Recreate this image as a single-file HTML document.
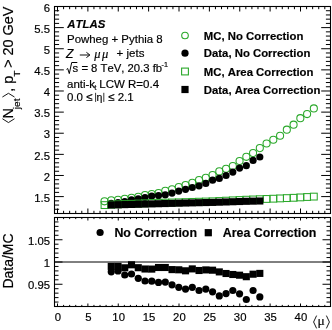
<!DOCTYPE html>
<html><head><meta charset="utf-8"><title>ATLAS Njet vs mu</title>
<style>
html,body{margin:0;padding:0;background:#fff;width:332px;height:330px;overflow:hidden;}
svg{display:block;}
  text{filter:grayscale(1);}
text{font-family:"Liberation Sans",sans-serif;fill:#000;font-kerning:none;stroke:#000;stroke-width:0.18px;}
.serif{font-family:"Liberation Serif",serif;}
</style></head><body>
<svg width="332" height="330" viewBox="0 0 332 330">
<rect x="0" y="0" width="332" height="330" fill="#fff"/>
<path d="M57.50 213.50v-5.0M57.50 6.50v5.0M63.58 213.50v-2.7M63.58 6.50v2.7M69.65 213.50v-2.7M69.65 6.50v2.7M75.72 213.50v-2.7M75.72 6.50v2.7M81.80 213.50v-2.7M81.80 6.50v2.7M87.88 213.50v-5.0M87.88 6.50v5.0M93.95 213.50v-2.7M93.95 6.50v2.7M100.03 213.50v-2.7M100.03 6.50v2.7M106.10 213.50v-2.7M106.10 6.50v2.7M112.18 213.50v-2.7M112.18 6.50v2.7M118.25 213.50v-5.0M118.25 6.50v5.0M124.33 213.50v-2.7M124.33 6.50v2.7M130.40 213.50v-2.7M130.40 6.50v2.7M136.48 213.50v-2.7M136.48 6.50v2.7M142.55 213.50v-2.7M142.55 6.50v2.7M148.62 213.50v-5.0M148.62 6.50v5.0M154.70 213.50v-2.7M154.70 6.50v2.7M160.78 213.50v-2.7M160.78 6.50v2.7M166.85 213.50v-2.7M166.85 6.50v2.7M172.93 213.50v-2.7M172.93 6.50v2.7M179.00 213.50v-5.0M179.00 6.50v5.0M185.07 213.50v-2.7M185.07 6.50v2.7M191.15 213.50v-2.7M191.15 6.50v2.7M197.22 213.50v-2.7M197.22 6.50v2.7M203.30 213.50v-2.7M203.30 6.50v2.7M209.38 213.50v-5.0M209.38 6.50v5.0M215.45 213.50v-2.7M215.45 6.50v2.7M221.53 213.50v-2.7M221.53 6.50v2.7M227.60 213.50v-2.7M227.60 6.50v2.7M233.68 213.50v-2.7M233.68 6.50v2.7M239.75 213.50v-5.0M239.75 6.50v5.0M245.83 213.50v-2.7M245.83 6.50v2.7M251.90 213.50v-2.7M251.90 6.50v2.7M257.98 213.50v-2.7M257.98 6.50v2.7M264.05 213.50v-2.7M264.05 6.50v2.7M270.12 213.50v-5.0M270.12 6.50v5.0M276.20 213.50v-2.7M276.20 6.50v2.7M282.27 213.50v-2.7M282.27 6.50v2.7M288.35 213.50v-2.7M288.35 6.50v2.7M294.43 213.50v-2.7M294.43 6.50v2.7M300.50 213.50v-5.0M300.50 6.50v5.0M306.58 213.50v-2.7M306.58 6.50v2.7M312.65 213.50v-2.7M312.65 6.50v2.7M318.73 213.50v-2.7M318.73 6.50v2.7M324.80 213.50v-2.7M324.80 6.50v2.7M54.50 196.60h9.3M330.50 196.60h-9.3M54.50 175.48h9.3M330.50 175.48h-9.3M54.50 154.36h9.3M330.50 154.36h-9.3M54.50 133.23h9.3M330.50 133.23h-9.3M54.50 112.11h9.3M330.50 112.11h-9.3M54.50 90.99h9.3M330.50 90.99h-9.3M54.50 69.87h9.3M330.50 69.87h-9.3M54.50 48.74h9.3M330.50 48.74h-9.3M54.50 27.62h9.3M330.50 27.62h-9.3M54.50 6.50h9.3M330.50 6.50h-9.3M54.50 213.50h4.6M330.50 213.50h-4.6M54.50 209.28h4.6M330.50 209.28h-4.6M54.50 205.05h4.6M330.50 205.05h-4.6M54.50 200.83h4.6M330.50 200.83h-4.6M54.50 192.38h4.6M330.50 192.38h-4.6M54.50 188.15h4.6M330.50 188.15h-4.6M54.50 183.93h4.6M330.50 183.93h-4.6M54.50 179.70h4.6M330.50 179.70h-4.6M54.50 171.26h4.6M330.50 171.26h-4.6M54.50 167.03h4.6M330.50 167.03h-4.6M54.50 162.81h4.6M330.50 162.81h-4.6M54.50 158.58h4.6M330.50 158.58h-4.6M54.50 150.13h4.6M330.50 150.13h-4.6M54.50 145.91h4.6M330.50 145.91h-4.6M54.50 141.68h4.6M330.50 141.68h-4.6M54.50 137.46h4.6M330.50 137.46h-4.6M54.50 129.01h4.6M330.50 129.01h-4.6M54.50 124.79h4.6M330.50 124.79h-4.6M54.50 120.56h4.6M330.50 120.56h-4.6M54.50 116.34h4.6M330.50 116.34h-4.6M54.50 107.89h4.6M330.50 107.89h-4.6M54.50 103.66h4.6M330.50 103.66h-4.6M54.50 99.44h4.6M330.50 99.44h-4.6M54.50 95.21h4.6M330.50 95.21h-4.6M54.50 86.77h4.6M330.50 86.77h-4.6M54.50 82.54h4.6M330.50 82.54h-4.6M54.50 78.32h4.6M330.50 78.32h-4.6M54.50 74.09h4.6M330.50 74.09h-4.6M54.50 65.64h4.6M330.50 65.64h-4.6M54.50 61.42h4.6M330.50 61.42h-4.6M54.50 57.19h4.6M330.50 57.19h-4.6M54.50 52.97h4.6M330.50 52.97h-4.6M54.50 44.52h4.6M330.50 44.52h-4.6M54.50 40.30h4.6M330.50 40.30h-4.6M54.50 36.07h4.6M330.50 36.07h-4.6M54.50 31.85h4.6M330.50 31.85h-4.6M54.50 23.40h4.6M330.50 23.40h-4.6M54.50 19.17h4.6M330.50 19.17h-4.6M54.50 14.95h4.6M330.50 14.95h-4.6M54.50 10.72h4.6M330.50 10.72h-4.6" stroke="#000" stroke-width="1" fill="none"/>
<path d="M57.50 306.50v-3.0M57.50 217.50v3.0M63.58 306.50v-1.6M63.58 217.50v1.6M69.65 306.50v-1.6M69.65 217.50v1.6M75.72 306.50v-1.6M75.72 217.50v1.6M81.80 306.50v-1.6M81.80 217.50v1.6M87.88 306.50v-3.0M87.88 217.50v3.0M93.95 306.50v-1.6M93.95 217.50v1.6M100.03 306.50v-1.6M100.03 217.50v1.6M106.10 306.50v-1.6M106.10 217.50v1.6M112.18 306.50v-1.6M112.18 217.50v1.6M118.25 306.50v-3.0M118.25 217.50v3.0M124.33 306.50v-1.6M124.33 217.50v1.6M130.40 306.50v-1.6M130.40 217.50v1.6M136.48 306.50v-1.6M136.48 217.50v1.6M142.55 306.50v-1.6M142.55 217.50v1.6M148.62 306.50v-3.0M148.62 217.50v3.0M154.70 306.50v-1.6M154.70 217.50v1.6M160.78 306.50v-1.6M160.78 217.50v1.6M166.85 306.50v-1.6M166.85 217.50v1.6M172.93 306.50v-1.6M172.93 217.50v1.6M179.00 306.50v-3.0M179.00 217.50v3.0M185.07 306.50v-1.6M185.07 217.50v1.6M191.15 306.50v-1.6M191.15 217.50v1.6M197.22 306.50v-1.6M197.22 217.50v1.6M203.30 306.50v-1.6M203.30 217.50v1.6M209.38 306.50v-3.0M209.38 217.50v3.0M215.45 306.50v-1.6M215.45 217.50v1.6M221.53 306.50v-1.6M221.53 217.50v1.6M227.60 306.50v-1.6M227.60 217.50v1.6M233.68 306.50v-1.6M233.68 217.50v1.6M239.75 306.50v-3.0M239.75 217.50v3.0M245.83 306.50v-1.6M245.83 217.50v1.6M251.90 306.50v-1.6M251.90 217.50v1.6M257.98 306.50v-1.6M257.98 217.50v1.6M264.05 306.50v-1.6M264.05 217.50v1.6M270.12 306.50v-3.0M270.12 217.50v3.0M276.20 306.50v-1.6M276.20 217.50v1.6M282.27 306.50v-1.6M282.27 217.50v1.6M288.35 306.50v-1.6M288.35 217.50v1.6M294.43 306.50v-1.6M294.43 217.50v1.6M300.50 306.50v-3.0M300.50 217.50v3.0M306.58 306.50v-1.6M306.58 217.50v1.6M312.65 306.50v-1.6M312.65 217.50v1.6M318.73 306.50v-1.6M318.73 217.50v1.6M324.80 306.50v-1.6M324.80 217.50v1.6M54.50 284.25h8.0M330.50 284.25h-8.0M54.50 262.00h8.0M330.50 262.00h-8.0M54.50 239.75h8.0M330.50 239.75h-8.0M54.50 302.05h4.0M330.50 302.05h-4.0M54.50 297.60h4.0M330.50 297.60h-4.0M54.50 293.15h4.0M330.50 293.15h-4.0M54.50 288.70h4.0M330.50 288.70h-4.0M54.50 279.80h4.0M330.50 279.80h-4.0M54.50 275.35h4.0M330.50 275.35h-4.0M54.50 270.90h4.0M330.50 270.90h-4.0M54.50 266.45h4.0M330.50 266.45h-4.0M54.50 257.55h4.0M330.50 257.55h-4.0M54.50 253.10h4.0M330.50 253.10h-4.0M54.50 248.65h4.0M330.50 248.65h-4.0M54.50 244.20h4.0M330.50 244.20h-4.0M54.50 235.30h4.0M330.50 235.30h-4.0M54.50 230.85h4.0M330.50 230.85h-4.0M54.50 226.40h4.0M330.50 226.40h-4.0M54.50 221.95h4.0M330.50 221.95h-4.0" stroke="#000" stroke-width="1" fill="none"/>
<rect x="54.5" y="6.5" width="276.0" height="207.0" fill="none" stroke="#000" stroke-width="1.1"/>
<rect x="54.5" y="217.5" width="276.0" height="89.0" fill="none" stroke="#000" stroke-width="1.1"/>
<line x1="54.50" y1="262.00" x2="330.50" y2="262.00" stroke="#000" stroke-width="1.0"/>
<text x="50.0" y="201.80" font-size="11.3" text-anchor="end">1.5</text>
<text x="50.0" y="180.68" font-size="11.3" text-anchor="end">2</text>
<text x="50.0" y="159.56" font-size="11.3" text-anchor="end">2.5</text>
<text x="50.0" y="138.43" font-size="11.3" text-anchor="end">3</text>
<text x="50.0" y="117.31" font-size="11.3" text-anchor="end">3.5</text>
<text x="50.0" y="96.19" font-size="11.3" text-anchor="end">4</text>
<text x="50.0" y="75.07" font-size="11.3" text-anchor="end">4.5</text>
<text x="50.0" y="53.94" font-size="11.3" text-anchor="end">5</text>
<text x="50.0" y="32.82" font-size="11.3" text-anchor="end">5.5</text>
<text x="50.0" y="11.70" font-size="11.3" text-anchor="end">6</text>
<text x="50.0" y="244.95" font-size="11.3" text-anchor="end">1.05</text>
<text x="50.0" y="267.20" font-size="11.3" text-anchor="end">1</text>
<text x="50.0" y="289.45" font-size="11.3" text-anchor="end">0.95</text>
<text x="57.90" y="320.9" font-size="11.3" text-anchor="middle">0</text>
<text x="88.28" y="320.9" font-size="11.3" text-anchor="middle">5</text>
<text x="118.65" y="320.9" font-size="11.3" text-anchor="middle">10</text>
<text x="149.03" y="320.9" font-size="11.3" text-anchor="middle">15</text>
<text x="179.40" y="320.9" font-size="11.3" text-anchor="middle">20</text>
<text x="209.78" y="320.9" font-size="11.3" text-anchor="middle">25</text>
<text x="240.15" y="320.9" font-size="11.3" text-anchor="middle">30</text>
<text x="270.52" y="320.9" font-size="11.3" text-anchor="middle">35</text>
<text x="300.90" y="320.9" font-size="11.3" text-anchor="middle">40</text>
<g stroke="#000" stroke-width="0.9" fill="none"><polyline points="316.6,315.6 313.6,322 316.6,328.4"/><polyline points="326.4,315.6 329.4,322 326.4,328.4"/></g>
<text class="serif" x="317.4" y="325.3" font-size="13.5">μ</text>
<g transform="translate(12.9,124.2) rotate(-90) scale(1.03,1)"><g stroke="#000" stroke-width="0.9" fill="none"><polyline points="5.3,-10.5 1.6,-4.45 5.3,1.6"/></g><text x="5.6" y="0" font-size="14.0">N</text><text x="14.6" y="7.0" font-size="9.8">jet</text><g stroke="#000" stroke-width="0.9" fill="none"><polyline points="26.4,-10.5 30.0,-4.45 26.4,1.6"/></g><text x="31.4" y="0" font-size="14.0">, p</text><text x="46.0" y="7.0" font-size="9.8">T</text><text x="54.7" y="0" font-size="14.0">&gt; 20 GeV</text></g>
<text transform="translate(13.2,288.6) rotate(-90)" x="0" y="0" font-size="14">Data/MC</text>
<text x="67.3" y="27.6" font-size="11.4" font-weight="bold" font-style="italic">ATLAS</text>
<text x="67" y="42.8" font-size="11.45">Powheg + Pythia 8</text>
<text x="66.0" y="57.8" font-size="12.2" font-style="italic">Z</text>
<path d="M79.8 55.0 H89.4 M86.4 52.3 L89.9 55.0 L86.4 57.6" stroke="#000" stroke-width="0.95" fill="none"/>
<text class="serif" x="94.3" y="57.6" font-size="12.5" font-style="italic">μ</text>
<text class="serif" x="101.9" y="57.6" font-size="12.5" font-style="italic">μ</text>
<text x="116.6" y="57" font-size="11.5">+ jets</text>
<path d="M66.5 69.4 L67.7 68.5 L69.3 73.6 L71.7 62.5 H77.3" stroke="#000" stroke-width="1.0" fill="none"/>
<text x="72.6" y="72.2" font-size="11.3">s = 8 TeV, 20.3 fb</text>
<text x="161.6" y="67.0" font-size="7.2">-1</text>
<text x="67" y="88" font-size="11.5">anti-k</text>
<text x="94.2" y="89.8" font-size="8">t</text>
<text x="99.3" y="88" font-size="11.5">LCW R=0.4</text>
<text x="67" y="101.4" font-size="11.5">0.0 ≤</text>
<path d="M95.6 92.8 V101.9 M103.8 92.8 V101.9" stroke="#000" stroke-width="0.8"/>
<text x="96.4" y="101.4" font-size="10.5">η</text>
<text x="108.2" y="101.4" font-size="11.5">≤ 2.1</text>
<circle cx="185.0" cy="35.5" r="3.3" fill="none" stroke="#2aa82a" stroke-width="1.1"/>
<circle cx="185.0" cy="53.2" r="3.6" fill="#000"/>
<rect x="181.60" y="68.10" width="6.8" height="6.8" fill="none" stroke="#2aa82a" stroke-width="1.1"/>
<rect x="181.40" y="85.90" width="7.2" height="7.2" fill="#000"/>
<text x="203.8" y="39.60" font-size="11.35" font-weight="bold">MC, No Correction</text>
<text x="203.8" y="57.30" font-size="11.35" font-weight="bold">Data, No Correction</text>
<text x="203.8" y="75.60" font-size="11.35" font-weight="bold">MC, Area Correction</text>
<text x="203.8" y="93.60" font-size="11.35" font-weight="bold">Data, Area Correction</text>
<circle cx="100.1" cy="232.5" r="3.6" fill="#000"/>
<text x="114.4" y="236.9" font-size="12.4" font-weight="bold">No Correction</text>
<rect x="204.7" y="229.1" width="7.2" height="7.2" fill="#000"/>
<text x="222.8" y="236.9" font-size="12.4" font-weight="bold">Area Correction</text>
<g fill="none" stroke="#2aa82a" stroke-width="1.05"><circle cx="104.50" cy="201.30" r="3.55"/><circle cx="111.25" cy="200.40" r="3.55"/><circle cx="118.01" cy="199.80" r="3.55"/><circle cx="124.76" cy="198.80" r="3.55"/><circle cx="131.51" cy="197.80" r="3.55"/><circle cx="138.26" cy="196.90" r="3.55"/><circle cx="145.02" cy="195.10" r="3.55"/><circle cx="151.77" cy="194.00" r="3.55"/><circle cx="158.52" cy="193.10" r="3.55"/><circle cx="165.28" cy="190.80" r="3.55"/><circle cx="172.03" cy="189.20" r="3.55"/><circle cx="178.78" cy="187.10" r="3.55"/><circle cx="185.54" cy="185.10" r="3.55"/><circle cx="192.29" cy="182.80" r="3.55"/><circle cx="199.04" cy="180.10" r="3.55"/><circle cx="205.80" cy="177.70" r="3.55"/><circle cx="212.55" cy="175.10" r="3.55"/><circle cx="219.30" cy="171.40" r="3.55"/><circle cx="226.05" cy="168.70" r="3.55"/><circle cx="232.81" cy="166.00" r="3.55"/><circle cx="239.56" cy="161.00" r="3.55"/><circle cx="246.31" cy="156.80" r="3.55"/><circle cx="253.07" cy="153.10" r="3.55"/><circle cx="259.82" cy="148.10" r="3.55"/><circle cx="266.57" cy="143.50" r="3.55"/><circle cx="273.32" cy="139.70" r="3.55"/><circle cx="280.08" cy="135.70" r="3.55"/><circle cx="286.83" cy="129.70" r="3.55"/><circle cx="293.58" cy="124.70" r="3.55"/><circle cx="300.34" cy="118.20" r="3.55"/><circle cx="307.09" cy="114.10" r="3.55"/><circle cx="313.84" cy="108.40" r="3.55"/></g>
<g fill="#000"><circle cx="111.25" cy="203.30" r="3.6"/><circle cx="118.01" cy="202.50" r="3.6"/><circle cx="124.76" cy="201.50" r="3.6"/><circle cx="131.51" cy="199.80" r="3.6"/><circle cx="138.26" cy="198.90" r="3.6"/><circle cx="145.02" cy="197.50" r="3.6"/><circle cx="151.77" cy="196.10" r="3.6"/><circle cx="158.52" cy="195.60" r="3.6"/><circle cx="165.28" cy="194.80" r="3.6"/><circle cx="172.03" cy="193.10" r="3.6"/><circle cx="178.78" cy="191.10" r="3.6"/><circle cx="185.54" cy="189.30" r="3.6"/><circle cx="192.29" cy="187.50" r="3.6"/><circle cx="199.04" cy="185.80" r="3.6"/><circle cx="205.80" cy="183.40" r="3.6"/><circle cx="212.55" cy="180.20" r="3.6"/><circle cx="219.30" cy="178.40" r="3.6"/><circle cx="226.05" cy="175.50" r="3.6"/><circle cx="232.81" cy="172.10" r="3.6"/><circle cx="239.56" cy="168.10" r="3.6"/><circle cx="246.31" cy="165.70" r="3.6"/><circle cx="253.07" cy="160.40" r="3.6"/><circle cx="259.82" cy="157.00" r="3.6"/></g>
<g fill="none" stroke="#2aa82a" stroke-width="1.05"><rect x="101.10" y="201.70" width="6.8" height="6.8"/><rect x="107.85" y="201.20" width="6.8" height="6.8"/><rect x="114.61" y="200.94" width="6.8" height="6.8"/><rect x="121.36" y="200.68" width="6.8" height="6.8"/><rect x="128.11" y="200.42" width="6.8" height="6.8"/><rect x="134.86" y="200.15" width="6.8" height="6.8"/><rect x="141.62" y="199.89" width="6.8" height="6.8"/><rect x="148.37" y="199.63" width="6.8" height="6.8"/><rect x="155.12" y="199.41" width="6.8" height="6.8"/><rect x="161.88" y="199.24" width="6.8" height="6.8"/><rect x="168.63" y="199.06" width="6.8" height="6.8"/><rect x="175.38" y="198.89" width="6.8" height="6.8"/><rect x="182.14" y="198.70" width="6.8" height="6.8"/><rect x="188.89" y="198.50" width="6.8" height="6.8"/><rect x="195.64" y="198.30" width="6.8" height="6.8"/><rect x="202.40" y="198.10" width="6.8" height="6.8"/><rect x="209.15" y="197.90" width="6.8" height="6.8"/><rect x="215.90" y="197.58" width="6.8" height="6.8"/><rect x="222.65" y="197.26" width="6.8" height="6.8"/><rect x="229.41" y="196.94" width="6.8" height="6.8"/><rect x="236.16" y="196.62" width="6.8" height="6.8"/><rect x="242.91" y="196.30" width="6.8" height="6.8"/><rect x="249.67" y="196.05" width="6.8" height="6.8"/><rect x="256.42" y="195.80" width="6.8" height="6.8"/><rect x="263.17" y="195.55" width="6.8" height="6.8"/><rect x="269.93" y="195.30" width="6.8" height="6.8"/><rect x="276.68" y="195.00" width="6.8" height="6.8"/><rect x="283.43" y="194.70" width="6.8" height="6.8"/><rect x="290.18" y="194.40" width="6.8" height="6.8"/><rect x="296.94" y="194.00" width="6.8" height="6.8"/><rect x="303.69" y="193.60" width="6.8" height="6.8"/><rect x="310.44" y="193.20" width="6.8" height="6.8"/></g>
<g fill="#000"><rect x="107.70" y="201.45" width="7.1" height="7.1"/><rect x="114.46" y="201.27" width="7.1" height="7.1"/><rect x="121.21" y="201.08" width="7.1" height="7.1"/><rect x="127.96" y="200.90" width="7.1" height="7.1"/><rect x="134.71" y="200.71" width="7.1" height="7.1"/><rect x="141.47" y="200.53" width="7.1" height="7.1"/><rect x="148.22" y="200.34" width="7.1" height="7.1"/><rect x="154.97" y="200.16" width="7.1" height="7.1"/><rect x="161.73" y="199.99" width="7.1" height="7.1"/><rect x="168.48" y="199.81" width="7.1" height="7.1"/><rect x="175.23" y="199.64" width="7.1" height="7.1"/><rect x="181.99" y="199.47" width="7.1" height="7.1"/><rect x="188.74" y="199.32" width="7.1" height="7.1"/><rect x="195.49" y="199.16" width="7.1" height="7.1"/><rect x="202.25" y="199.01" width="7.1" height="7.1"/><rect x="209.00" y="198.85" width="7.1" height="7.1"/><rect x="215.75" y="198.63" width="7.1" height="7.1"/><rect x="222.50" y="198.41" width="7.1" height="7.1"/><rect x="229.26" y="198.19" width="7.1" height="7.1"/><rect x="236.01" y="197.97" width="7.1" height="7.1"/><rect x="242.76" y="197.75" width="7.1" height="7.1"/><rect x="249.52" y="197.60" width="7.1" height="7.1"/><rect x="256.27" y="197.45" width="7.1" height="7.1"/></g>
<g fill="#000"><circle cx="111.25" cy="271.80" r="3.6"/><circle cx="118.01" cy="270.90" r="3.6"/><circle cx="124.76" cy="275.00" r="3.6"/><circle cx="131.51" cy="274.00" r="3.6"/><circle cx="138.26" cy="278.30" r="3.6"/><circle cx="145.02" cy="281.00" r="3.6"/><circle cx="151.77" cy="281.20" r="3.6"/><circle cx="158.52" cy="282.40" r="3.6"/><circle cx="165.28" cy="282.10" r="3.6"/><circle cx="172.03" cy="284.80" r="3.6"/><circle cx="178.78" cy="287.30" r="3.6"/><circle cx="185.54" cy="289.10" r="3.6"/><circle cx="192.29" cy="287.30" r="3.6"/><circle cx="199.04" cy="290.50" r="3.6"/><circle cx="205.80" cy="289.10" r="3.6"/><circle cx="212.55" cy="291.80" r="3.6"/><circle cx="219.30" cy="295.90" r="3.6"/><circle cx="226.05" cy="293.60" r="3.6"/><circle cx="232.81" cy="290.50" r="3.6"/><circle cx="239.56" cy="293.80" r="3.6"/><circle cx="246.31" cy="299.50" r="3.6"/><circle cx="253.07" cy="290.50" r="3.6"/><circle cx="259.82" cy="296.90" r="3.6"/></g>
<g fill="#000"><rect x="107.70" y="262.85" width="7.1" height="7.1"/><rect x="114.46" y="262.85" width="7.1" height="7.1"/><rect x="121.21" y="264.25" width="7.1" height="7.1"/><rect x="127.96" y="261.25" width="7.1" height="7.1"/><rect x="134.71" y="264.15" width="7.1" height="7.1"/><rect x="141.47" y="265.45" width="7.1" height="7.1"/><rect x="148.22" y="265.55" width="7.1" height="7.1"/><rect x="154.97" y="263.95" width="7.1" height="7.1"/><rect x="161.73" y="263.95" width="7.1" height="7.1"/><rect x="168.48" y="266.05" width="7.1" height="7.1"/><rect x="175.23" y="266.25" width="7.1" height="7.1"/><rect x="181.99" y="267.25" width="7.1" height="7.1"/><rect x="188.74" y="265.35" width="7.1" height="7.1"/><rect x="195.49" y="266.95" width="7.1" height="7.1"/><rect x="202.25" y="266.35" width="7.1" height="7.1"/><rect x="209.00" y="266.65" width="7.1" height="7.1"/><rect x="215.75" y="268.35" width="7.1" height="7.1"/><rect x="222.50" y="269.95" width="7.1" height="7.1"/><rect x="229.26" y="270.95" width="7.1" height="7.1"/><rect x="236.01" y="271.65" width="7.1" height="7.1"/><rect x="242.76" y="273.15" width="7.1" height="7.1"/><rect x="249.52" y="270.65" width="7.1" height="7.1"/><rect x="256.27" y="269.85" width="7.1" height="7.1"/></g>
</svg>
</body></html>
